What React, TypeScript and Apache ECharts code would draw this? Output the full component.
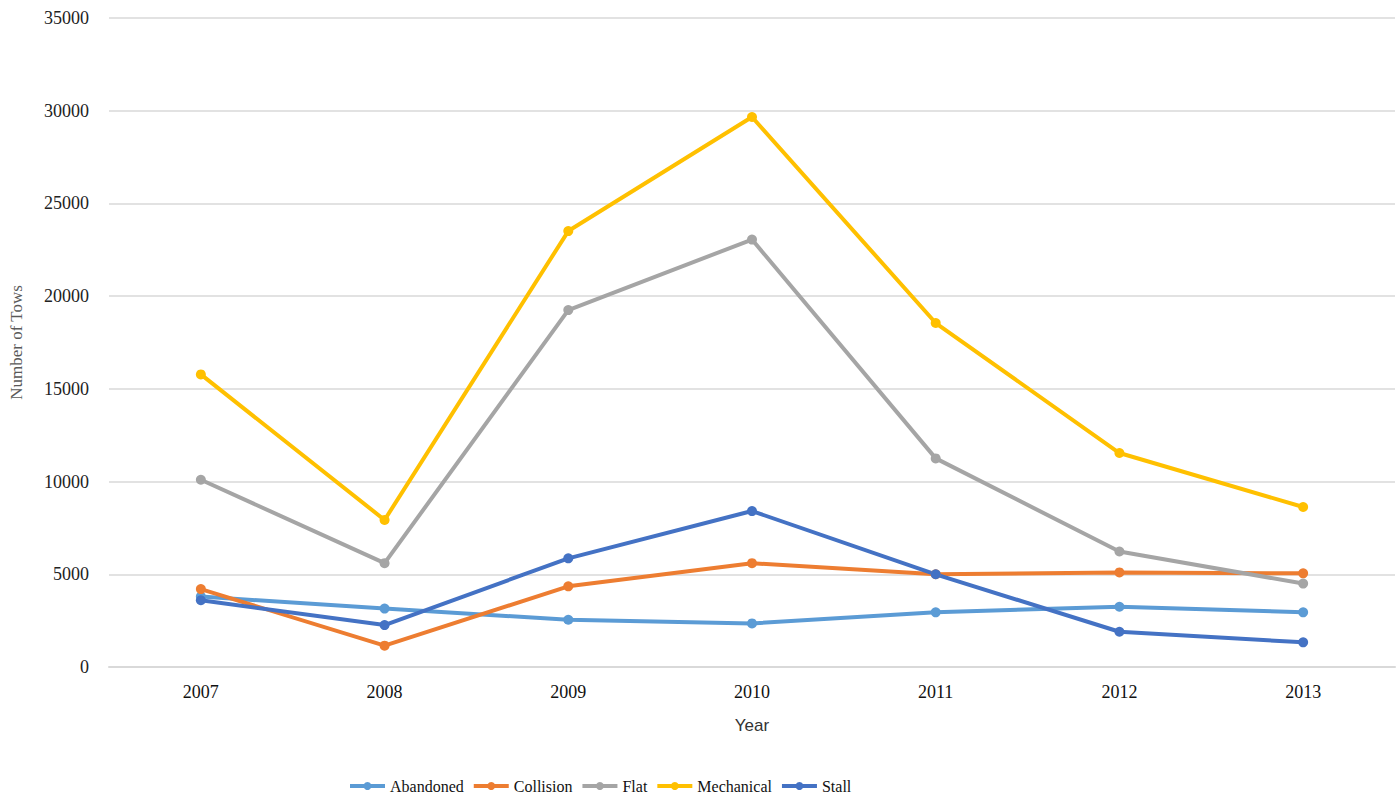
import React, { useEffect, useRef } from "react";
import * as echarts from "echarts";

const years = ["2007", "2008", "2009", "2010", "2011", "2012", "2013"];
const abandoned = [3800, 3150, 2550, 2350, 2950, 3250, 2950];
const collision = [4200, 1150, 4350, 5600, 5000, 5100, 5050];
const flat = [10100, 5600, 19250, 23050, 11250, 6230, 4500];
const mechanical = [15780, 7930, 23510, 29660, 18550, 11540, 8630];
const stall = [3600, 2260, 5860, 8410, 5000, 1900, 1330];

const seriesDefs = [
  { name: "Abandoned", data: abandoned, color: "#5B9BD5" },
  { name: "Collision", data: collision, color: "#ED7D31" },
  { name: "Flat", data: flat, color: "#A5A5A5" },
  { name: "Mechanical", data: mechanical, color: "#FFC000" },
  { name: "Stall", data: stall, color: "#4472C4" },
];

const serif = "'Liberation Serif', 'Times New Roman', serif";

export default function App() {
  const ref = useRef<HTMLDivElement>(null);

  useEffect(() => {
    if (!ref.current) return;
    const chart = echarts.init(ref.current, undefined, { renderer: "svg" });
    chart.setOption({
      animation: false,
      grid: { left: 108, right: 2, top: 18, bottom: 131, containLabel: false },
      legend: {
        top: 773,
        left: 343,
        itemWidth: 35,
        itemHeight: 10,
        itemGap: 8,
        lineStyle: { width: 4 },
        textStyle: { fontFamily: serif, fontSize: 16, color: "#111" },
        data: seriesDefs.map((s) => s.name),
      },
      xAxis: {
        type: "category",
        data: years,
        boundaryGap: true,
        name: "Year",
        nameLocation: "middle",
        nameGap: 50,
        nameTextStyle: { fontFamily: "'Liberation Sans', Arial, sans-serif", fontSize: 17, color: "#333" },
        axisLine: { show: true, lineStyle: { color: "#d9d9d9", width: 2 } },
        axisTick: { show: false },
        axisLabel: { fontFamily: serif, fontSize: 18, color: "#111", margin: 16 },
      },
      yAxis: {
        type: "value",
        min: 0,
        max: 35000,
        interval: 5000,
        name: "Number of Tows",
        nameLocation: "middle",
        nameGap: 84,
        nameTextStyle: { fontFamily: serif, fontSize: 17, color: "#595959" },
        axisLine: { show: false },
        axisTick: { show: false },
        splitLine: { lineStyle: { color: "#d9d9d9", width: 1.5 } },
        axisLabel: {
          fontFamily: serif,
          fontSize: 18,
          color: "#222",
          margin: 20,
          formatter: (v: number) => String(v),
        },
      },
      series: seriesDefs.map((s) => ({
        name: s.name,
        type: "line",
        data: s.data,
        symbol: "circle",
        symbolSize: 10,
        color: s.color,
        lineStyle: { width: 4, color: s.color },
        itemStyle: { color: s.color },
      })),
    });
    return () => chart.dispose();
  }, []);

  return (
    <div
      ref={ref}
      style={{ position: "absolute", left: 0, top: 0, width: 1397, height: 798, background: "#fff" }}
    />
  );
}
